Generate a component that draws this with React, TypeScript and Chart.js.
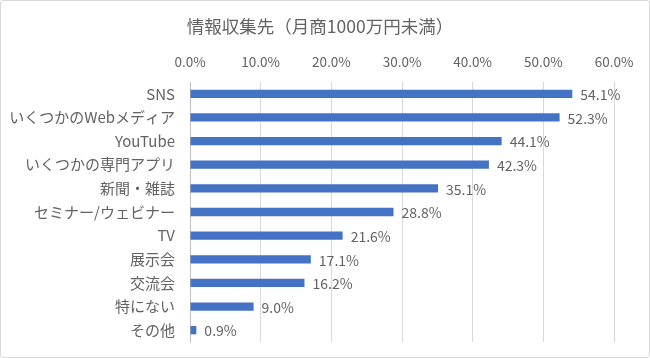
import React, { useEffect, useRef } from "react";
import { Chart, registerables } from "chart.js";

Chart.register(...registerables);

const TITLE = "情報収集先（月商1000万円未満）";
const categories = [
  "SNS",
  "いくつかのWebメディア",
  "YouTube",
  "いくつかの専門アプリ",
  "新聞・雑誌",
  "セミナー/ウェビナー",
  "TV",
  "展示会",
  "交流会",
  "特にない",
  "その他",
];
const values = [54.1, 52.3, 44.1, 42.3, 35.1, 28.8, 21.6, 17.1, 16.2, 9.0, 0.9];
const xMin = 0;
const xMax = 60;
const xStep = 10;

const FONT = "'Noto Sans CJK JP', 'Noto Sans', sans-serif";
const TEXT = "#636363";

const labelsPlugin = {
  id: "valueLabels",
  afterDatasetsDraw(chart: any) {
    const ctx = chart.ctx;
    const meta = chart.getDatasetMeta(0);
    ctx.save();
    ctx.font = `14px ${FONT}`;
    ctx.fillStyle = TEXT;
    ctx.textAlign = "left";
    ctx.textBaseline = "middle";
    meta.data.forEach((bar: any, i: number) => {
      ctx.fillText(values[i].toFixed(1) + "%", bar.x + 8, bar.y + 1);
    });
    ctx.restore();
  },
};

const titlePlugin = {
  id: "customTitle",
  afterDraw(chart: any) {
    const ctx = chart.ctx;
    ctx.save();
    ctx.font = `17.5px ${FONT}`;
    ctx.fillStyle = TEXT;
    ctx.textAlign = "center";
    ctx.textBaseline = "middle";
    ctx.fillText(TITLE, 320, 26);
    ctx.restore();
  },
};

export default function App() {
  const ref = useRef<HTMLCanvasElement | null>(null);
  useEffect(() => {
    document.body.style.margin = "0";
    if (!ref.current) return;
    const chart = new Chart(ref.current, {
      type: "bar",
      data: {
        labels: categories,
        datasets: [
          {
            data: values,
            backgroundColor: "#4472C4",
            categoryPercentage: 1,
            barPercentage: 0.35,
          },
        ],
      },
      options: {
        indexAxis: "y",
        animation: false,
        responsive: false,
        maintainAspectRatio: false,
        layout: { padding: { top: 0, right: 36, bottom: 16, left: 0 } },
        plugins: {
          legend: { display: false },
          title: { display: false },
          tooltip: { enabled: false },
        },
        scales: {
          x: {
            position: "top",
            min: xMin,
            max: xMax,
            ticks: {
              stepSize: xStep,
              color: TEXT,
              font: { family: FONT, size: 13.5 },
              padding: 12,
              callback: (v: any) => Number(v).toFixed(1) + "%",
            },
            grid: { color: "#d9d9d9", drawTicks: false },
            border: { display: false },
            afterFit: (s: any) => {
              s.height = 82;
              s.paddingLeft = 0;
              s.paddingRight = 0;
            },
          },
          y: {
            ticks: {
              color: TEXT,
              font: { family: FONT, size: 15 },
              padding: 15,
            },
            grid: { display: false, drawTicks: false },
            border: { color: "#bfbfbf" },
            afterFit: (s: any) => {
              s.width = 190;
              s.paddingTop = 0;
              s.paddingBottom = 0;
            },
          },
        },
      },
      plugins: [labelsPlugin, titlePlugin],
    });
    return () => chart.destroy();
  }, []);
  return (
    <div style={{ position: "relative", width: 650, height: 358 }}>
      <canvas ref={ref} width={650} height={358} style={{ display: "block" }} />
      <div
        style={{
          position: "absolute",
          left: 0,
          top: 0,
          width: 648,
          height: 356,
          border: "1px solid #d9d9d9",
          borderRadius: 3,
          pointerEvents: "none",
        }}
      />
    </div>
  );
}
